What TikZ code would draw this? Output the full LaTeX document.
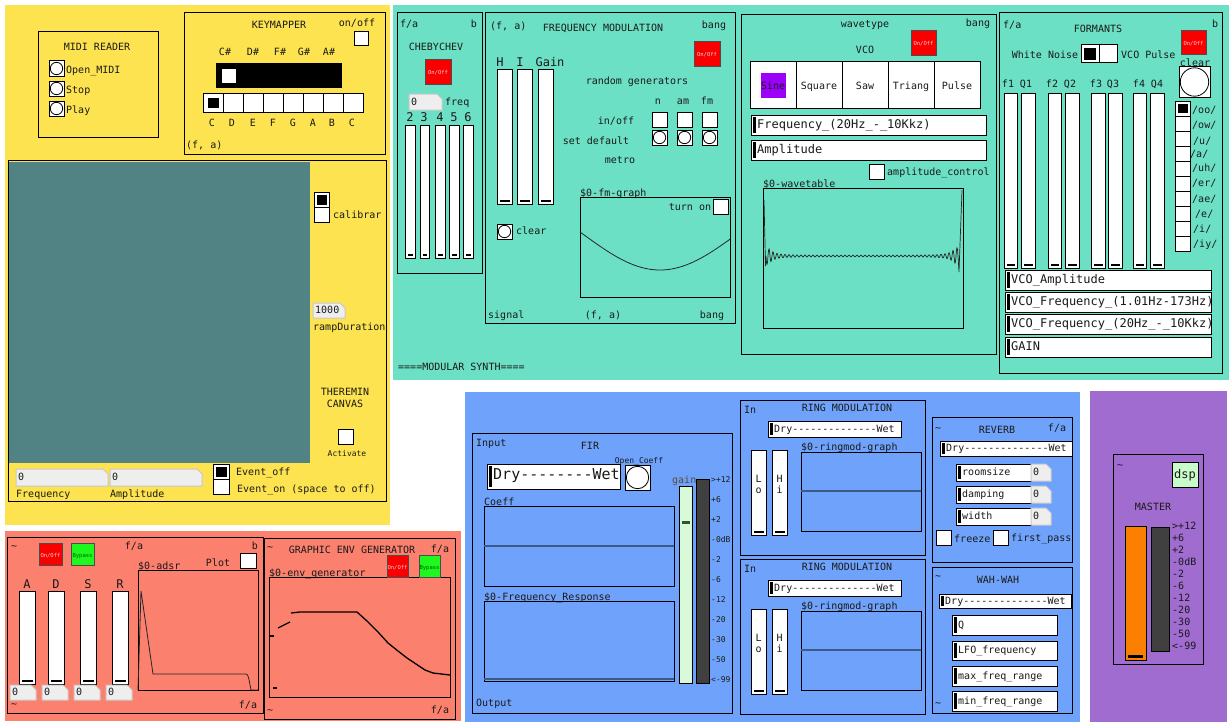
\documentclass[tikz,border=0pt]{standalone}
\usepackage{fontspec}
\setmainfont{DejaVu Sans Mono}[Ligatures=TeXOff]
\definecolor{cyel}{HTML}{FCE34F}
\definecolor{cgrn}{HTML}{6CE0C4}
\definecolor{csal}{HTML}{FB806D}
\definecolor{cblu}{HTML}{6FA3FB}
\definecolor{cpur}{HTML}{A06CD0}
\definecolor{ccan}{HTML}{518385}
\definecolor{cred}{HTML}{F80000}
\definecolor{cbyp}{HTML}{1EF81E}
\definecolor{cdsp}{HTML}{C8FCC8}
\definecolor{cfir}{HTML}{D8FAD8}
\definecolor{cfirk}{HTML}{2D5A1E}
\definecolor{cvu}{HTML}{404040}
\definecolor{corg}{HTML}{FC8000}
\definecolor{cprp}{HTML}{9B00F8}
\definecolor{nbg}{HTML}{EEEEEE}
\definecolor{nbe}{HTML}{C8C8C8}
\definecolor{cline}{HTML}{3C5A88}
\definecolor{ctxt}{HTML}{1A1A1A}
\definecolor{cgain}{HTML}{5A4A3A}
\tikzset{
  txt/.style={inner sep=0pt, font=\fontsize{10}{12}\selectfont, text=ctxt, text height=1.5ex, text depth=.3ex},
  big/.style={font=\fontsize{12}{14}\selectfont},
  huge/.style={font=\fontsize{15}{17}\selectfont},
  sm/.style={font=\fontsize{8}{9}\selectfont},
  tiny/.style={font=\fontsize{5.5}{6}\selectfont},
  frame/.style={draw=black, line width=1pt},
  wbox/.style={draw=black, line width=1pt, fill=white},
  curve/.style={draw=black!85, line width=0.8pt},
}
\newcounter{nn}
\newcommand\T[3][]{\stepcounter{nn}\node[txt,#1] (n\arabic{nn}) at (#2) {#3};}
\newcommand\VSL[4]{\draw[wbox] (#1,#2) rectangle (#3,#4);
  \fill[black] ({#1+2.5},{#4-4.5}) rectangle ({#3-2.5},{#4-1.8});}
\newcommand\BNG[4]{\draw[wbox] (#1,#2) rectangle (#3,#4);
  \draw[line width=0.8pt] ({(#1+#3)/2},{(#2+#4)/2}) circle[radius={((#3-#1)/2-1.3)*1pt}];}
\newcommand\TGL[4]{\draw[wbox] (#1,#2) rectangle (#3,#4);}
\newcommand\HSL[6][]{%
  \fill[white] (#2,#3) rectangle (#4,#5);
  \begin{scope}\clip (#2,#3) rectangle (#4,#5);
  \T[anchor=west,#1]{{#2+6},{(#3+#5)/2}}{#6}
  \end{scope}
  \draw[frame] (#2,#3) rectangle (#4,#5);
  \fill[black] ({#2+2},{#3+2}) rectangle ({#2+5},{#5-2});}
\newcommand\NBX[5]{\filldraw[fill=nbg, draw=nbe, line width=1pt] (#1,#2) -- ({#3-5},#2) -- (#3,{#2+5}) -- (#3,#4) -- (#1,#4) -- cycle;
  \T[anchor=west]{{#1+2},{(#2+#4)/2}}{#5}}
\newcommand\ONOFF[4]{\filldraw[fill=cred,draw=black!70,line width=0.6pt] (#1,#2) rectangle (#3,#4);
  \T[tiny,text=pink!70!white]{{(#1+#3)/2},{(#2+#4)/2}}{On/Off}}
\newcommand\BYP[4]{\filldraw[fill=cbyp,draw=black!70,line width=0.6pt] (#1,#2) rectangle (#3,#4);
  \T[tiny,text=green!35!black]{{(#1+#3)/2},{(#2+#4)/2}}{Bypass}}
\begin{document}
\begin{tikzpicture}[x=1pt,y=-1pt]
\useasboundingbox (0,0) rectangle (1231,725);
\fill[white] (0,0) rectangle (1231,725);
% ---------- backgrounds
\fill[cyel] (5,5) rectangle (390,525);
\fill[cgrn] (393,5) rectangle (1229,380);
\fill[csal] (5,531) rectangle (461,721);
\fill[cblu] (465,392) rectangle (1080,722);
\fill[cpur] (1090,391) rectangle (1227,722);

% ---------- MIDI READER
\draw[frame] (38,32) rectangle (158,137);
\T{97,47}{MIDI READER}
\BNG{49}{61}{64}{76}
\BNG{49}{81}{64}{96}
\BNG{49}{101}{64}{116}
\T[anchor=west]{66,70}{Open\_MIDI}
\T[anchor=west]{66,90}{Stop}
\T[anchor=west]{66,110}{Play}

% ---------- KEYMAPPER
\draw[frame] (184,13) rectangle (385,154);
\T{279,25}{KEYMAPPER}
\T{357,23}{on/off}
\TGL{354}{32}{368}{46}
\foreach \x/\l in {225/C\#,253/D\#,280/F\#,304/G\#,329/A\#} {\T{\x,52}{\l}}
\fill[black] (216,63) rectangle (342,88);
\fill[white] (222,69) rectangle (236,83);
\foreach \i in {0,...,7} {\draw[wbox] ({203+20*\i},93) rectangle ({223+20*\i},112);}
\fill[black] (207.5,97.5) rectangle (218.5,107.5);
\foreach \x/\l in {212/C,232/D,253/E,273/F,293/G,313/A,332/B,352/C} {\T{\x,123}{\l}}
\T[anchor=west]{186,145}{(f, a)}

% ---------- THEREMIN
\draw[frame] (8,160) rectangle (386,501);
\fill[ccan] (8.5,162) rectangle (310,463);
\draw[wbox] (314,192) rectangle (329,207);
\fill[black] (316.5,194.5) rectangle (326.5,204.5);
\draw[wbox] (314,207) rectangle (329,222);
\T[anchor=west]{333,215}{calibrar}
\NBX{313}{303}{345}{318}{1000}
\T[anchor=west]{313,327}{rampDuration}
\T{345,392}{THEREMIN}
\T{345,404}{CANVAS}
\TGL{338}{429}{353}{444}
\T[sm]{347,453}{Activate}
\NBX{16}{469}{108}{486}{0}
\NBX{110}{469}{202}{486}{0}
\T[anchor=west]{16,494}{Frequency}
\T[anchor=west]{110,494}{Amplitude}
\draw[wbox] (213,464) rectangle (229,479);
\fill[black] (215.5,466.5) rectangle (226.5,476.5);
\draw[wbox] (213,479) rectangle (229,494);
\T[anchor=west]{236,472}{Event\_off}
\T[anchor=west]{237,489}{Event\_on (space to off)}

% ---------- CHEBYCHEV
\draw[frame] (397,13) rectangle (482,273);
\T[anchor=west]{400,24}{f/a}
\T{474,24}{b}
\T{436,47}{CHEBYCHEV}
\ONOFF{425}{59}{451}{84}
\NBX{409}{94}{442}{110}{0}
\T[anchor=west]{445,102}{freq}
\foreach \x/\l in {410/2,424/3,440/4,454/5,468/6} {\T[big]{\x,118}{\l}}
\foreach \a/\b in {405/415,420/429,435/445,449/459,463/473} {\VSL{\a}{125}{\b}{258}}

% ---------- FREQUENCY MODULATION
\draw[frame] (485,13) rectangle (735,323);
\T[anchor=west]{490,26}{(f, a)}
\T{603,28}{FREQUENCY MODULATION}
\T{714,25}{bang}
\ONOFF{694}{41}{720}{66}
\T[big]{500,63}{H}
\T[big]{520,63}{I}
\T[big]{550,63}{Gain}
\VSL{497}{70}{512}{204}
\VSL{517}{70}{532}{204}
\VSL{538}{70}{553}{204}
\T{637,81}{random generators}
\T{658,101}{n}
\T{683,101}{am}
\T{707,101}{fm}
\T{616,121}{in/off}
\T{596,141}{set default}
\T{620,160}{metro}
\foreach \x in {652,677,702} {\TGL{\x}{112}{\x+15}{127} \BNG{\x}{130}{\x+15}{145}}
\BNG{497}{224}{512}{239}
\T[anchor=west]{516,231}{clear}
\T[anchor=west]{580,193}{\$0-fm-graph}
\draw[frame] (580,197) rectangle (730,297);
\T{690,207}{turn on}
\TGL{713}{199}{728}{214}
\draw[curve] plot[domain=580:730, samples=80] (\x, {235.6+34.4*cos(1.2*(\x-660))});
\T[anchor=west]{488,315}{signal}
\T{603,315}{(f, a)}
\T{712,315}{bang}

% ---------- VCO
\draw[frame] (741,15) rectangle (996,354);
\T{865,24}{wavetype}
\T{978,23}{bang}
\T{865,50}{VCO}
\ONOFF{911}{30}{936}{55}
\foreach \i in {0,...,4} {\draw[wbox] ({750+46*\i},62) rectangle ({796+46*\i},108);}
\fill[cprp] (761,73) rectangle (786,98);
\foreach \x/\l in {773/Sine,819/Square,865/Saw,911/Triang,957/Pulse} {\T{\x,86}{\l}}
\HSL[big]{751}{115}{986}{135}{Frequency\_(20Hz\_-\_10Kkz)}
\HSL[big]{751}{140}{986}{160}{Amplitude}
\TGL{869}{164}{884}{179}
\T[anchor=west]{887,172}{amplitude\_control}
\T[anchor=west]{763,184}{\$0-wavetable}
\draw[frame] (763,188) rectangle (963,328);
\draw[curve, line width=0.7pt] (764,200) -- (765.5,266)
  -- plot[domain=0:192, samples=500] ({766+\x}, {256+(0.8+8/(1+(\x/6)^2)+8/(1+((192-\x)/6)^2))*sin(90*mod(\x,4))})
  -- (959,272) -- (962,190);

% ---------- FORMANTS
\draw[frame] (999,13) rectangle (1222,373);
\T[anchor=west]{1003,25}{f/a}
\T{1098,29}{FORMANTS}
\T{1215,24}{b}
\ONOFF{1181}{30}{1206}{54}
\T{1045,55}{White Noise}
\draw[wbox] (1081,45) rectangle (1099,63);
\draw[wbox] (1099,45) rectangle (1117,63);
\fill[black] (1084,48) rectangle (1096,60);
\T[anchor=west]{1121,55}{VCO Pulse}
\T{1195,63}{clear}
\BNG{1179}{67}{1210}{97}
\foreach \x/\l in {1008/f1,1026/Q1,1052/f2,1070/Q2,1096/f3,1113/Q3,1139/f4,1157/Q4} {\T{\x,84}{\l}}
\foreach \a/\b in {1004/1017,1021/1035,1048/1061,1065/1079,1091/1105,1108/1122,1133/1146,1150/1164} {\VSL{\a}{93}{\b}{268}}
\foreach \i in {0,...,9} {\draw[wbox] (1175,{101+15*\i}) rectangle (1190,{116+15*\i});}
\fill[black] (1178,104) rectangle (1188,113);
\T[anchor=west]{1192,110}{/oo/}
\T[anchor=west]{1192,125}{/ow/}
\T[anchor=west]{1193,141}{/u/}
\T[anchor=west]{1190,154}{/a/}
\T[anchor=west]{1192,168}{/uh/}
\T[anchor=west]{1192,183}{/er/}
\T[anchor=west]{1192,199}{/ae/}
\T[anchor=west]{1195,214}{/e/}
\T[anchor=west]{1193,229}{/i/}
\T[anchor=west]{1193,244}{/iy/}
\HSL[big]{1005}{270}{1211}{290}{VCO\_Amplitude}
\HSL[big]{1005}{292}{1211}{312}{VCO\_Frequency\_(1.01Hz-173Hz)}
\HSL[big]{1005}{314}{1211}{334}{VCO\_Frequency\_(20Hz\_-\_10Kkz)}
\HSL[big]{1005}{337}{1211}{357}{GAIN}
\T[anchor=west]{398,367}{====MODULAR SYNTH====}

% ---------- ADSR
\draw[frame] (7,537) rectangle (263,713);
\T[anchor=west]{11,546}{\textasciitilde}
\ONOFF{39}{543}{62}{565}
\BYP{71}{543}{94}{565}
\T{134,546}{f/a}
\T{255,546}{b}
\T{218,563}{Plot}
\TGL{240}{553}{256}{568}
\T[anchor=west]{138,566}{\$0-adsr}
\draw[frame] (138,570) rectangle (258,690);
\draw[curve] (138,690) -- (141,591) -- (153,674) -- (245,674) .. controls (248,674) .. (251,690) -- (258,690);
\foreach \x/\l in {27/A,56/D,88/S,120/R} {\T[big]{\x,585}{\l}}
\foreach \a/\b in {19/35,48/64,80/96,112/128} {\VSL{\a}{591}{\b}{684}}
\foreach \a/\b in {10/36,42/68,74/100,106/132} {\NBX{\a}{685}{\b}{700}{0}}
\T[anchor=west]{11,704}{\textasciitilde}
\T{248,705}{f/a}

% ---------- GRAPHIC ENV GENERATOR
\draw[frame] (264,538) rectangle (455,719);
\T[anchor=west]{267,547}{\textasciitilde}
\T{352,550}{GRAPHIC ENV GENERATOR}
\T{440,549}{f/a}
\T[anchor=west]{269,573}{\$0-env\_generator}
\draw[frame] (269,577) rectangle (450,697);
\ONOFF{387}{555}{408}{577}
\BYP{419}{555}{440}{577}
\draw[black, line width=1.3pt] (270,636) -- (274,636);
\draw[black, line width=1.3pt] (278,628) -- (290,622);
\draw[black, line width=1.3pt] (291,613) -- (300,612) -- (357,612) -- (367,621) -- (378,632) -- (388,643) -- (398,651) -- (407,658) -- (416,664) -- (425,670) -- (433,673) -- (450,675);
\draw[black, line width=1.3pt] (273,688) -- (277,688);
\T[anchor=west]{267,710}{\textasciitilde}
\T{440,710}{f/a}

% ---------- FIR
\draw[frame] (472,433) rectangle (732,713);
\T[anchor=west]{476,443}{Input}
\T{590,446}{FIR}
\T[sm]{639,460}{Open\_Coeff}
\HSL[huge]{487}{464}{620}{489}{Dry--------Wet}
\BNG{625}{465}{650}{490}
\T[anchor=west]{484,502}{Coeff}
\draw[frame] (484,506) rectangle (674,586);
\draw[cline, line width=1.5pt] (484,546) -- (674,546);
\T[anchor=west]{484,597}{\$0-Frequency\_Response}
\draw[frame] (484,601) rectangle (674,681);
\draw[cline, line width=1.5pt] (484,679) -- (674,679);
\T[anchor=west,text=cgain]{672,480}{gain}
\filldraw[fill=cfir, draw=black, line width=1pt] (679,486) rectangle (692,683);
\fill[cfirk] (681.5,520.5) rectangle (689.5,523.5);
\filldraw[fill=cvu, draw=black, line width=1pt] (696,479) rectangle (709,683);
\foreach \y/\l in {479/>+12,499/+6,519/+2,539/-0dB,559/-2,579/-6,599/-12,619/-20,639/-30,659/-50,679/<-99} {\T[sm,anchor=west]{711,\y}{\l}}
\T[anchor=west]{476,703}{Output}

% ---------- RING MODULATION x2
\foreach \o in {0,159} {
  \draw[frame] (740,{400+\o}) rectangle (925,{555+\o});
  \T[anchor=west]{744,{410+\o}}{In}
  \T{847,{408+\o}}{RING MODULATION}
  \HSL{768}{421+\o}{901}{437+\o}{Dry--------------Wet}
  \T[anchor=west]{801,{447+\o}}{\$0-ringmod-graph}
  \draw[frame] (801,{452+\o}) rectangle (921,{531+\o});
  \draw[cline, line width=1.5pt] (801,{491+\o}) -- (921,{491+\o});
  \VSL{751}{450+\o}{766}{535+\o}
  \VSL{772}{450+\o}{787}{535+\o}
  \T{758.5,{479+\o}}{L}
  \T{758.5,{490+\o}}{o}
  \T{779.5,{479+\o}}{H}
  \T{779.5,{490+\o}}{i}
}

% ---------- REVERB
\draw[frame] (932,417) rectangle (1072,562);
\T[anchor=west]{935,428}{\textasciitilde}
\T{997,430}{REVERB}
\T{1057,428}{f/a}
\HSL{940}{441}{1072}{456}{Dry--------------Wet}
\HSL{956}{464}{1031}{481}{roomsize}
\HSL{956}{486}{1031}{503}{damping}
\HSL{956}{508}{1031}{525}{width}
\NBX{1031}{464}{1051}{481}{0}
\NBX{1031}{486}{1051}{503}{0}
\NBX{1031}{508}{1051}{525}{0}
\TGL{936}{530}{951}{545}
\T[anchor=west]{954,539}{freeze}
\TGL{993}{530}{1008}{545}
\T[anchor=west]{1011,538}{first\_pass}

% ---------- WAH-WAH
\draw[frame] (932,567) rectangle (1072,713);
\T[anchor=west]{935,576}{\textasciitilde}
\T{998,580}{WAH-WAH}
\HSL{939}{594}{1071}{608}{Dry--------------Wet}
\HSL{952}{615}{1057}{635}{Q}
\HSL{952}{641}{1057}{660}{LFO\_frequency}
\HSL{952}{666}{1057}{686}{max\_freq\_range}
\HSL{952}{691}{1057}{711}{min\_freq\_range}
\T[anchor=west]{935,703}{\textasciitilde}

% ---------- MASTER
\draw[frame] (1113,454) rectangle (1203,664);
\T[anchor=west]{1117,465}{\textasciitilde}
\filldraw[fill=cdsp, draw=black, line width=1pt] (1172,462) rectangle (1198,487);
\T[big]{1185,475}{dsp}
\T{1153,507}{MASTER}
\filldraw[fill=corg, draw=black, line width=1pt] (1125,526) rectangle (1146,660);
\fill[black] (1128,655) rectangle (1143,658);
\filldraw[fill=cvu, draw=black, line width=1pt] (1151,527) rectangle (1169,651);
\foreach \y/\l in {526/>+12,538/+6,550/+2,562/-0dB,574/-2,586/-6,598/-12,610/-20,622/-30,634/-50,646/<-99} {\T[anchor=west]{1172,\y}{\l}}
\end{tikzpicture}
\end{document}
